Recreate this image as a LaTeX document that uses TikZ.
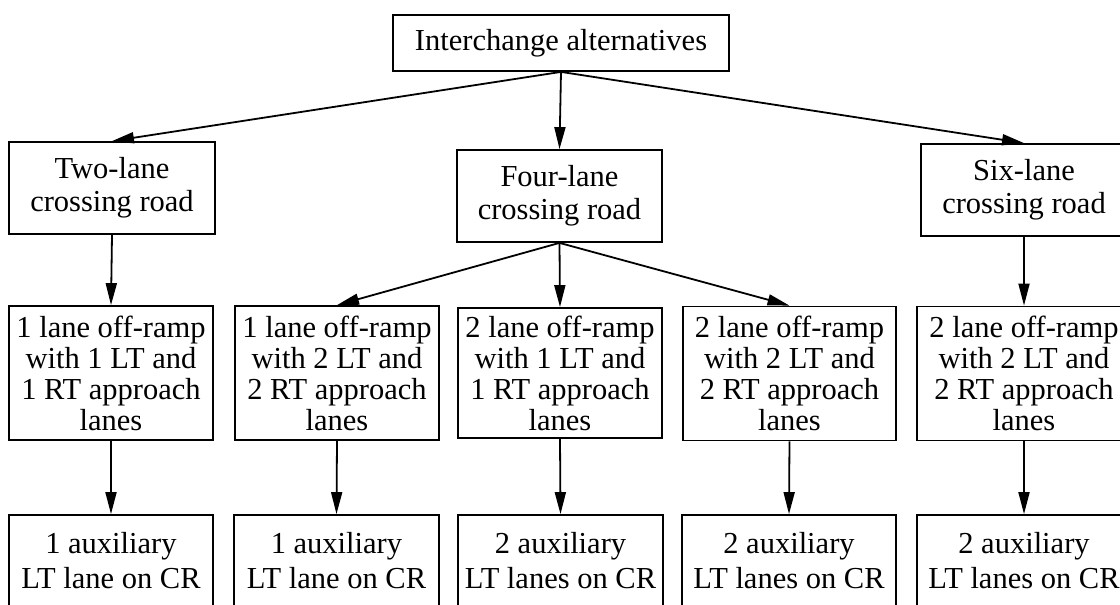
\documentclass[tikz,border=0pt]{standalone}
\usepackage{fontspec}
\setmainfont{Liberation Serif}
\usepackage{tikz}
\usetikzlibrary{arrows.meta}

\begin{document}
\begin{tikzpicture}[
    x=1pt, y=-1pt,
    box/.style={draw, line width=1.8pt, inner sep=0pt, align=center,
        font=\fontsize{30.5}{31}\selectfont},
    road/.style={box, minimum width=206pt, minimum height=92pt},
    ramp/.style={box, minimum width=204pt, minimum height=134pt},
    aux/.style={box, minimum width=204pt, minimum height=92pt},
    arrow/.style={line width=1.8pt, -{Triangle[length=22pt, width=11pt]}}
]
    \clip (0,0) rectangle (1120,605);

    % top level
    \node[box, minimum width=336pt, minimum height=56pt] (alt) at (561,43) {Interchange alternatives};

    % crossing roads
    \node[road] (two) at (112,188) {Two-lane\\[2pt]crossing road};
    \node[road, minimum width=205pt] (four) at (559.5,196) {Four-lane\\[2pt]crossing road};
    \node[road] (six) at (1024,190) {Six-lane\\[2pt]crossing road};

    % off-ramps
    \node[ramp] (r1) at (111,373) {1 lane off-ramp\\with 1 LT and\\1 RT approach\\lanes};
    \node[ramp] (r2) at (337,373) {1 lane off-ramp\\with 2 LT and\\2 RT approach\\lanes};
    \node[ramp, minimum height=130pt] (r3) at (560,373) {2 lane off-ramp\\with 1 LT and\\1 RT approach\\lanes};
    \node[ramp, minimum width=213pt] (r4) at (789.5,373.5) {2 lane off-ramp\\with 2 LT and\\2 RT approach\\lanes};
    \node[ramp, minimum width=214pt] (r5) at (1024,373.5) {2 lane off-ramp\\with 2 LT and\\2 RT approach\\lanes};

    % auxiliary lanes
    \node[aux] (c1) at (111,561) {1 auxiliary\\[4pt]LT lane on CR};
    \node[aux, minimum width=205pt] (c2) at (336.5,561) {1 auxiliary\\[4pt]LT lane on CR};
    \node[aux, minimum width=205pt] (c3) at (560.5,561) {2 auxiliary\\[4pt]LT lanes on CR};
    \node[aux, minimum width=214pt] (c4) at (789,561) {2 auxiliary\\[4pt]LT lanes on CR};
    \node[aux, minimum width=214pt] (c5) at (1024,561) {2 auxiliary\\[4pt]LT lanes on CR};

    \draw[arrow] (alt.south) -- (two.north);
    \draw[arrow] (alt.south) -- (four.north);
    \draw[arrow] (alt.south) -- (six.north);

    \draw[arrow] (two.south) -- (r1.north);
    \draw[arrow] (four.south) -- (r2.north);
    \draw[arrow] (four.south) -- (r3.north);
    \draw[arrow] (four.south) -- (r4.north);
    \draw[arrow] (six.south) -- (r5.north);

    \foreach \i in {1,...,5}
        \draw[arrow] (r\i.south) -- (c\i.north);
\end{tikzpicture}
\end{document}
